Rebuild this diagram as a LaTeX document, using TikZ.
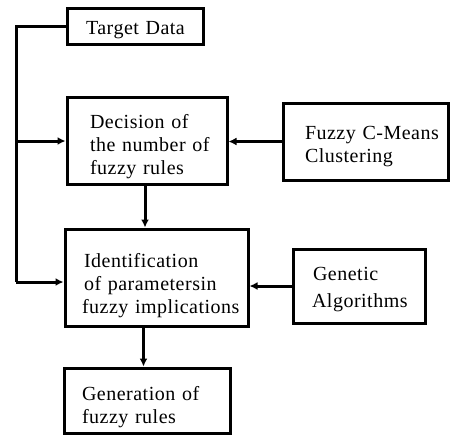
\documentclass[tikz,border=0pt]{standalone}
\usepackage{fontspec}
\setmainfont[LetterSpace=2.5]{Liberation Serif}
\usetikzlibrary{arrows.meta,calc}
\newcommand\bxfont{\fontsize{20}{23}\selectfont\spaceskip=0.4em plus 0.1em\relax}
\newcommand\tup[1]{\rule{0pt}{#1}}
\begin{document}
\begin{tikzpicture}[x=1pt,y=-1pt,
  box/.style={draw,line width=3pt,rectangle,inner xsep=0pt,inner ysep=0pt,align=left,
    font=\bxfont},
  arr/.style={line width=3pt,-{Latex[length=8pt,width=8pt]}},
  ln/.style={line width=3pt}]
\useasboundingbox (0,0) rectangle (450,439);
\node[box,minimum width=136pt,minimum height=36pt,text width=136pt] (td) at (135,26) {\tup{22pt}\hspace*{19pt}Target Data};
\node[box,minimum width=160pt,minimum height=87pt,text width=160pt] (dec) at (147,140.5) {\tup{26pt}\hspace*{23pt}Decision of\\\hspace*{23pt}the number of\\\hspace*{23pt}fuzzy rules};
\node[box,minimum width=165pt,minimum height=77pt,text width=165pt] (fcm) at (365.5,141.5) {\tup{24pt}\hspace*{22pt}Fuzzy C-Means\\\hspace*{22pt}Clustering};
\node[box,minimum width=183pt,minimum height=97pt,text width=183pt] (id) at (156.5,277.5) {\tup{30pt}\hspace*{19pt}Identification\\\hspace*{19pt}of parametersin\\\hspace*{17pt}fuzzy implications};
\node[box,minimum width=132pt,minimum height=74pt,text width=132pt] (ga) at (359,286) {\tup{20pt}\hspace*{20pt}Genetic\\[4pt]\hspace*{19pt}Algorithms};
\node[box,minimum width=166pt,minimum height=65pt,text width=166pt] (gen) at (147,400.5) {\tup{28pt}\hspace*{18pt}Generation of\\\hspace*{18pt}fuzzy rules};
\coordinate (c1) at (16,26);
\coordinate (c2) at (16,141);
\coordinate (c3) at (16,282);
\draw[ln] (td.west) -- (c1) -- (c3);
\draw[arr] (c2) -- (c2 -| dec.west);
\draw[arr] (c3) -- (c3 -| id.west);
\draw[arr] (fcm.west) -- (fcm.west -| dec.east);
\draw[arr] (ga.west) -- (ga.west -| id.east);
\draw[arr] ([xshift=-2pt]dec.south) -- ([xshift=-2pt]dec.south |- id.north);
\draw[arr] ([xshift=-13pt]id.south) -- ([xshift=-13pt]id.south |- gen.north);
\end{tikzpicture}
\end{document}
